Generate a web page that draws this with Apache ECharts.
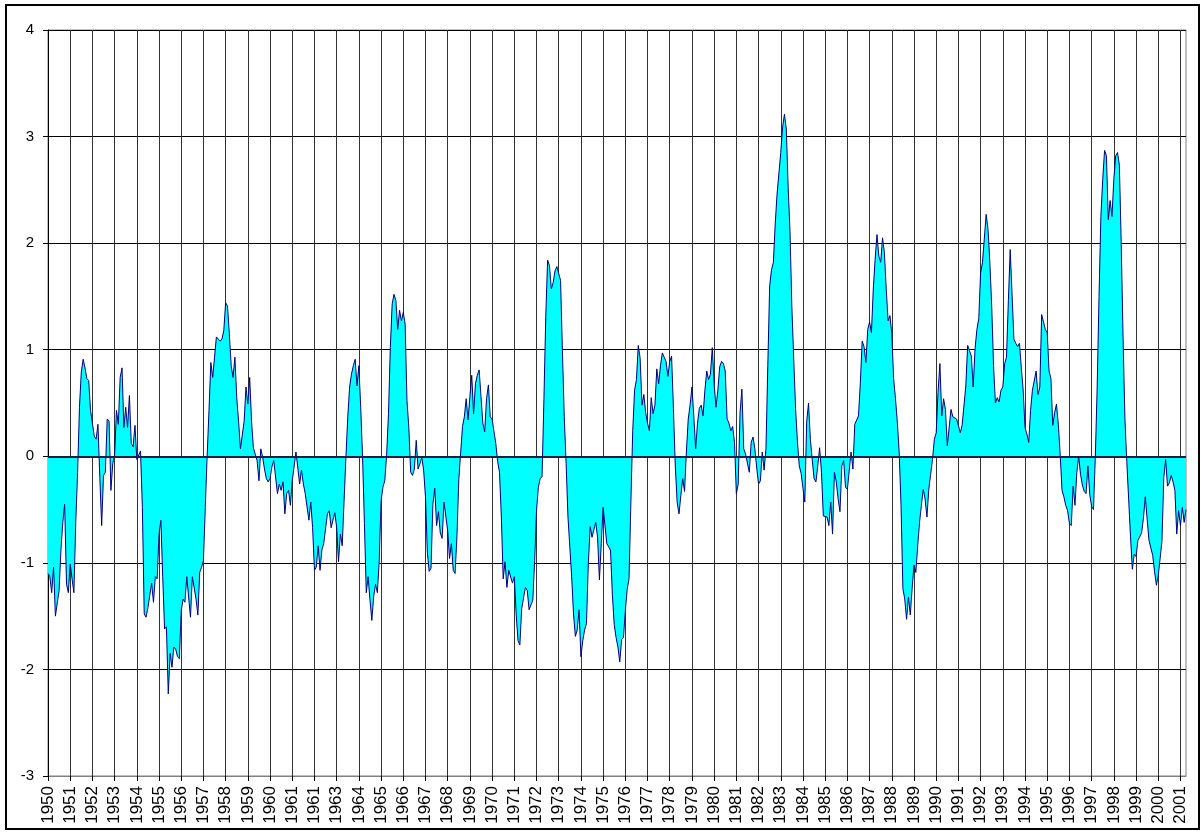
<!DOCTYPE html>
<html><head><meta charset="utf-8">
<script src="https://cdn.jsdelivr.net/npm/echarts@6/dist/echarts.min.js"></script>
<style>html,body{margin:0;padding:0;background:#fff}#c{width:1204px;height:834px}</style>
</head><body><div id="c"></div>
<script>
// Tick labels shown under the category axis (one every 12 months), as printed in the reference
const yearTicks = ['1950','1951','1952','1953','1954','1955','1956','1957','1958','1959','1960','1961','1961','1963','1964','1965','1966','1967','1968','1969','1970','1971','1972','1973','1974','1975','1976','1977','1978','1979','1980','1981','1982','1983','1984','1985','1986','1987','1988','1989','1990','1991','1992','1993','1994','1995','1996','1997','1998','1999','2000','2001'];

// Monthly index values, Jan..Dec of each year
const v1950 = [-1.10,-1.13,-1.28,-1.04,-1.50,-1.51,-1.26,-0.88,-0.62,-0.45,-1.20,-1.28];
const v1951 = [-1.01,-1.15,-1.28,-0.62,-0.15,0.46,0.79,0.91,0.83,0.73,0.71,0.43];
const v1952 = [0.42,0.19,0.16,0.30,-0.20,-0.65,-0.18,-0.15,0.35,0.33,-0.32,-0.07];
const v1953 = [0.01,0.43,0.30,0.74,0.83,0.27,0.46,0.27,0.57,0.12,0.09,0.29];
const v1954 = [-0.03,-0.04,0.05,-0.48,-1.48,-1.51,-1.42,-1.43,-1.19,-1.37,-1.13,-1.15];
const v1955 = [-0.73,-0.60,-1.13,-1.62,-1.60,-2.23,-1.85,-1.98,-1.79,-1.81,-1.88,-1.90];
const v1956 = [-1.45,-1.34,-1.37,-1.13,-1.32,-1.51,-1.13,-1.12,-1.34,-1.49,-1.09,-1.04];
const v1957 = [-0.98,-0.48,0.00,0.43,0.88,0.74,0.93,1.12,1.13,1.08,1.10,1.18];
const v1958 = [1.44,1.41,1.15,0.85,0.74,0.93,0.55,0.33,0.07,0.08,0.33,0.65];
const v1959 = [0.49,0.74,0.33,0.08,0.02,-0.04,-0.23,0.07,-0.01,-0.12,-0.21,-0.24];
const v1960 = [-0.21,-0.10,-0.04,-0.03,-0.35,-0.26,-0.32,-0.24,-0.54,-0.35,-0.32,-0.46];
const v1961 = [-0.23,-0.23,0.04,0.04,-0.26,-0.13,-0.26,-0.35,-0.35,-0.60,-0.43,-0.67];
const v1962 = [-1.07,-1.04,-0.84,-1.07,-0.88,-0.82,-0.82,-0.54,-0.51,-0.67,-0.67,-0.53];
const v1963 = [-0.67,-0.99,-0.73,-0.84,-0.42,-0.01,0.37,0.65,0.77,0.85,0.91,0.66];
const v1964 = [0.85,0.46,-0.01,-0.63,-1.28,-1.13,-1.35,-1.54,-1.32,-1.20,-1.28,-0.98];
const v1965 = [-0.42,-0.29,-0.23,0.01,0.40,1.02,1.43,1.52,1.46,1.19,1.37,1.27];
const v1966 = [1.35,1.24,0.52,0.27,-0.15,-0.18,-0.12,0.15,-0.12,-0.07,-0.01,-0.13];
const v1967 = [-0.38,-0.90,-1.08,-1.05,-0.45,-0.30,-0.65,-0.52,-0.72,-0.77,-0.43,-0.42];
const v1968 = [-0.70,-0.96,-0.82,-1.07,-1.10,-0.75,-0.22,0.03,0.28,0.37,0.54,0.34];
const v1969 = [0.56,0.76,0.40,0.68,0.76,0.81,0.56,0.31,0.23,0.54,0.67,0.37];
const v1970 = [0.35,0.34,0.12,-0.05,-0.15,-0.57,-1.15,-0.99,-1.23,-1.07,-1.07,-1.19];
const v1971 = [-1.13,-1.48,-1.73,-1.77,-1.43,-1.43,-1.23,-1.26,-1.44,-1.44,-1.35,-0.98];
const v1972 = [-0.51,-0.29,-0.21,-0.19,0.53,1.31,1.84,1.79,1.57,1.63,1.74,1.78];
const v1973 = [1.79,1.65,0.99,0.37,-0.07,-0.57,-0.85,-1.13,-1.48,-1.69,-1.63,-1.44];
const v1974 = [-1.88,-1.73,-1.63,-1.57,-1.01,-0.66,-0.76,-0.69,-0.62,-0.76,-1.16,-0.82];
const v1975 = [-0.48,-0.48,-0.82,-0.82,-0.88,-1.30,-1.58,-1.70,-1.79,-1.93,-1.72,-1.70];
const v1976 = [-1.45,-1.25,-1.15,-0.43,0.24,0.62,0.72,1.04,0.92,0.48,0.58,0.41];
const v1977 = [0.31,0.24,0.55,0.40,0.48,0.82,0.68,0.85,0.97,0.97,0.89,0.75];
const v1978 = [0.89,0.94,0.45,-0.09,-0.43,-0.54,-0.37,-0.21,-0.33,0.04,0.35,0.48];
const v1979 = [0.65,0.38,0.07,0.31,0.45,0.48,0.38,0.62,0.80,0.72,0.77,1.02];
const v1980 = [0.68,0.46,0.62,0.84,0.89,0.87,0.80,0.35,0.31,0.24,0.28,0.13];
const v1981 = [-0.35,-0.26,0.41,0.63,0.07,0.02,0.01,-0.15,0.13,0.18,0.07,-0.11];
const v1982 = [-0.26,-0.23,0.04,-0.13,0.07,0.85,1.60,1.75,1.82,2.18,2.46,2.46];
const v1983 = [2.85,3.09,3.21,3.07,2.52,2.11,1.40,0.92,0.45,0.14,-0.09,-0.16];
const v1984 = [-0.30,-0.43,0.32,0.50,0.16,-0.03,-0.21,-0.24,-0.09,0.08,-0.15,-0.56];
const v1985 = [-0.56,-0.57,-0.65,-0.43,-0.73,-0.15,-0.24,-0.40,-0.52,-0.09,-0.04,-0.29];
const v1986 = [-0.31,-0.31,0.04,-0.12,0.30,0.31,0.38,0.69,1.08,1.03,0.88,1.19];
const v1987 = [1.26,1.16,1.57,1.85,2.08,1.88,1.82,2.05,1.91,1.57,1.27,1.32];
const v1988 = [1.15,0.73,0.54,0.32,0.04,-0.46,-1.24,-1.34,-1.53,-1.32,-1.49,-1.24];
const v1989 = [-1.02,-1.09,-0.84,-0.62,-0.46,-0.31,-0.40,-0.57,-0.31,-0.32,-0.03,0.16];
const v1990 = [0.22,0.60,0.87,0.38,0.54,0.44,0.10,0.11,0.44,0.37,0.38,0.35];
const v1991 = [0.29,0.22,0.29,0.30,0.66,1.04,0.99,0.94,0.65,1.01,1.19,1.29];
const v1992 = [1.72,1.82,2.04,2.27,2.13,1.82,1.41,0.85,0.50,0.55,0.51,0.62];
const v1993 = [0.65,0.87,0.93,1.46,1.94,1.52,1.10,1.06,1.03,1.06,0.83,0.62];
const v1994 = [0.27,0.21,0.13,0.43,0.62,0.62,0.80,0.58,0.65,1.33,1.26,1.19];
const v1995 = [1.16,0.80,0.73,0.29,0.41,0.49,0.30,0.02,-0.32,-0.38,-0.46,-0.51];
const v1996 = [-0.63,-0.65,-0.28,-0.46,-0.15,0.00,-0.17,-0.27,-0.33,-0.35,-0.09,-0.36];
const v1997 = [-0.47,-0.50,0.00,0.65,1.50,2.25,2.60,2.87,2.82,2.22,2.40,2.25];
const v1998 = [2.60,2.82,2.85,2.73,1.99,1.10,0.35,-0.05,-0.40,-0.75,-1.06,-0.92];
const v1999 = [-0.94,-0.79,-0.80,-0.72,-0.58,-0.38,-0.59,-0.79,-0.86,-0.93,-1.08,-1.21];
const v2000 = [-1.12,-1.12,-0.80,-0.20,-0.03,-0.28,-0.25,-0.18,-0.24,-0.32,-0.73,-0.51];
const v2001 = [-0.65,-0.48,-0.62,-0.50];

const values = [].concat(v1950,v1951,v1952,v1953,v1954,v1955,v1956,v1957,v1958,v1959,
  v1960,v1961,v1962,v1963,v1964,v1965,v1966,v1967,v1968,v1969,
  v1970,v1971,v1972,v1973,v1974,v1975,v1976,v1977,v1978,v1979,
  v1980,v1981,v1982,v1983,v1984,v1985,v1986,v1987,v1988,v1989,
  v1990,v1991,v1992,v1993,v1994,v1995,v1996,v1997,v1998,v1999,
  v2000,v2001);
const months = values.map((_, i) => (1950 + Math.floor(i / 12)) + '-' + String(i % 12 + 1).padStart(2, '0'));

const FONT = 'Arial, "Liberation Sans", sans-serif';
const chart = echarts.init(document.getElementById('c'), null, {renderer: 'canvas'});
chart.setOption({
  animation: false,
  backgroundColor: '#fff',
  grid: {left: 48, right: 18, top: 30, bottom: 58, show: true, borderColor: '#808080', borderWidth: 1, backgroundColor: 'transparent'},
  graphic: [{
    type: 'rect', shape: {x: 6, y: 5, width: 1193, height: 824},
    style: {fill: 'none', stroke: '#000', lineWidth: 2}, silent: true, z: 100
  }],
  xAxis: {
    type: 'category', data: months, boundaryGap: false,
    axisLine: {onZero: false, lineStyle: {color: '#808080', width: 1}},
    axisTick: {show: true, interval: 11, length: 5, lineStyle: {color: '#000'}},
    splitLine: {show: true, interval: 11, lineStyle: {color: '#333', width: 1}},
    axisLabel: {
      interval: 11, rotate: 90, margin: 10, fontSize: 17, color: '#000', fontFamily: FONT,
      formatter: (val, idx) => yearTicks[Math.round(idx / 12)] || ''
    }
  },
  yAxis: {
    type: 'value', min: -3, max: 4, interval: 1,
    axisLine: {show: true, lineStyle: {color: '#000', width: 1}},
    axisTick: {show: true, length: 5, lineStyle: {color: '#000'}},
    splitLine: {show: true, lineStyle: {color: '#000', width: 1}},
    axisLabel: {margin: 14, fontSize: 15, color: '#000', fontFamily: FONT}
  },
  series: [{
    type: 'line', data: values, showSymbol: false, symbol: 'none',
    lineStyle: {color: '#000080', width: 1},
    areaStyle: {color: '#00FFFF', opacity: 1, origin: 'auto'},
    markLine: {
      silent: true, symbol: 'none', label: {show: false},
      lineStyle: {color: '#1c1c44', width: 2, type: 'solid'},
      data: [{yAxis: 0}]
    }
  }]
});
</script></body></html>
